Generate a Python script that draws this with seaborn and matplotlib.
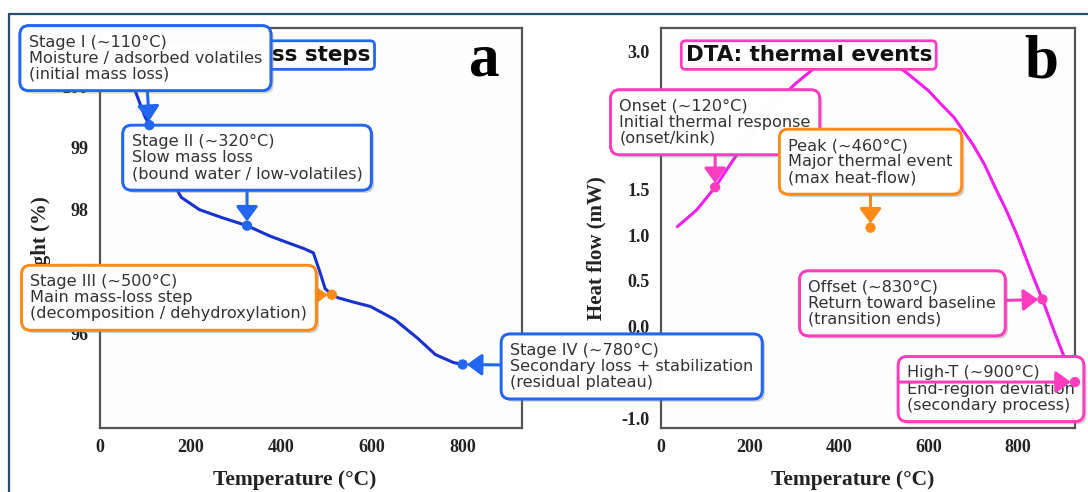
import matplotlib
matplotlib.use("Agg")
import numpy as np
import pandas as pd
import seaborn as sns
import matplotlib.pyplot as plt
from matplotlib import patheffects as pe
from matplotlib.lines import Line2D

# ---------------- data ----------------
tga_temp = [52, 82, 100, 110, 130, 150, 180, 220, 270, 325, 376, 420, 450, 471,
            485, 497, 512, 526, 560, 597, 650, 700, 740, 780, 800]
tga_weight = [100.46, 99.86, 99.51, 99.37, 98.95, 98.60, 98.20, 98.00, 97.87, 97.74,
              97.57, 97.45, 97.37, 97.30, 97.00, 96.72, 96.62, 96.57, 96.50, 96.43,
              96.22, 95.92, 95.65, 95.52, 95.49]

dta_temp = [37, 80, 122, 160, 200, 250, 300, 340, 380, 420, 445, 480, 520, 550,
            600, 625, 657, 700, 725, 749, 775, 800, 834, 855, 880, 900, 925]
dta_heat = [1.09, 1.27, 1.52, 1.80, 2.08, 2.40, 2.64, 2.80, 2.91, 2.97, 2.98, 2.95,
            2.87, 2.77, 2.57, 2.44, 2.28, 1.98, 1.77, 1.52, 1.26, 0.98, 0.55, 0.30,
            -0.03, -0.28, -0.58]

tga_event_temp = [110, 325, 512, 800]
tga_event_weight = [99.37, 97.74, 96.62, 95.49]
tga_event_text = ["Stage I (~110°C)\nMoisture / adsorbed volatiles\n(initial mass loss)",
                  "Stage II (~320°C)\nSlow mass loss\n(bound water / low-volatiles)",
                  "Stage III (~500°C)\nMain mass-loss step\n(decomposition / dehydroxylation)",
                  "Stage IV (~780°C)\nSecondary loss + stabilization\n(residual plateau)"]

dta_event_temp = [122, 470, 855, 928]
dta_event_heat = [1.52, 1.08, 0.30, -0.60]
dta_event_text = ["Onset (~120°C)\nInitial thermal response\n(onset/kink)",
                  "Peak (~460°C)\nMajor thermal event\n(max heat-flow)",
                  "Offset (~830°C)\nReturn toward baseline\n(transition ends)",
                  "High-T (~900°C)\nEnd-region deviation\n(secondary process)"]

x_ticks = [0, 200, 400, 600, 800]
tga_yticks = [96, 97, 98, 99, 100]
dta_yticks = [-1.0, -0.5, 0.0, 0.5, 1.0, 1.5, 2.0, 2.5, 3.0]
dta_yticklabels = ["-1.0", "-0.5", "0.0", "0.5", "1.0", "1.5", "2.0", "2.5", "3.0"]

# ---------------- style ----------------
sns.set_style("white")
plt.rcParams['font.family'] = ['DejaVu Sans']

BLUE = "#2266f2"
ORANGE = "#ff8a16"
PINK = "#ff3cc0"
TGA_LINE = "#1732cf"
DTA_LINE = "#f21ef0"
SPINE = "#555555"
TXT = "#333333"

W, H = 1088, 492
fig = plt.figure(figsize=(W / 100, H / 100), dpi=100)
fig.patch.set_facecolor("white")

def axes_rect(x0, x1, ytop, ybot):
    return [x0 / W, (H - ybot) / H, (x1 - x0) / W, (ybot - ytop) / H]

ax1 = fig.add_axes(axes_rect(99.5, 521.7, 28.3, 428))
ax2 = fig.add_axes(axes_rect(660.7, 1075, 28.3, 428))
ax1.set_zorder(3)
ax2.set_zorder(2)

tga_df = pd.DataFrame({"T": tga_temp, "W": tga_weight})
dta_df = pd.DataFrame({"T": dta_temp, "Q": dta_heat})
sns.lineplot(data=tga_df, x="T", y="W", ax=ax1, color=TGA_LINE, lw=2.2, sort=False, zorder=2)
sns.lineplot(data=dta_df, x="T", y="Q", ax=ax2, color=DTA_LINE, lw=2.2, sort=False, zorder=2)

ax1.set_xlim(0, 930)
ax1.set_ylim(94.46, 100.94)
ax2.set_xlim(0, 928)
ax2.set_ylim(-1.10, 3.25)
ax1.set_yticks(tga_yticks)
ax2.set_yticks(dta_yticks)
ax2.set_yticklabels(dta_yticklabels)

serif = "Liberation Serif"
for ax, ylab in ((ax1, "Weight (%)"), (ax2, "Heat flow (mW)")):
    ax.set_facecolor("#fdfdfd")
    ax.set_xticks(x_ticks)
    for s in ax.spines.values():
        s.set_color(SPINE)
        s.set_linewidth(1.6)
        s.set_visible(True)
    ax.tick_params(direction="out", length=5, width=1.3, color=SPINE, labelsize=13,
                   labelcolor="#222222", pad=3)
    for lbl in ax.get_xticklabels() + ax.get_yticklabels():
        lbl.set_fontfamily(serif)
        lbl.set_fontweight("bold")
    ax.set_xlabel("Temperature (°C)", fontfamily=serif, fontweight="bold", fontsize=15.5,
                  color="#222222")
    ax.set_ylabel(ylab, fontfamily=serif, fontweight="bold", fontsize=15,
                  color="#222222")
    ax.xaxis.set_label_coords(0.463, -0.105)
ax1.yaxis.set_label_coords(-0.115, 0.45)
ax2.yaxis.set_label_coords(-0.130, 0.45)

# panel titles
for ax, title, col, tx in ((ax1, "TGA: mass-loss steps", BLUE, 0.034),
                           (ax2, "DTA: thermal events", PINK, 0.06)):
    ax.text(tx, 0.933, title, transform=ax.transAxes, fontsize=15.4, fontweight="bold",
            ha="left", va="center", color="#111111", zorder=4,
            bbox=dict(boxstyle="round,pad=0.2", fc="white", ec=col, lw=2))

# panel letters
fig.text(500 / W, 1 - 75 / H, "a", fontfamily=serif, fontweight="bold", fontsize=44,
         ha="right", va="baseline", color="black")
fig.text(1058 / W, 1 - 78 / H, "b", fontfamily=serif, fontweight="bold", fontsize=44,
         ha="right", va="baseline", color="black")

shadow = [pe.withSimplePatchShadow(offset=(2, -2), shadow_rgbFace="#777777", alpha=0.35), pe.Normal()]
ARROW = "-|>,head_length=0.45,head_width=0.33"

def event_box(ax, text, xy, off_px, col, z):
    ann = ax.annotate(text, xy=xy, xycoords="data", xytext=off_px, textcoords="offset pixels",
                      ha="center", va="center", multialignment="left", fontsize=11.6,
                      linespacing=1.09, color=TXT, zorder=z, annotation_clip=False,
                      bbox=dict(boxstyle="round,pad=0.55", fc=(1, 1, 1, 0.87), ec=col, lw=2),
                      arrowprops=dict(arrowstyle=ARROW, mutation_scale=20, color=col, lw=2.2,
                                      shrinkA=0, shrinkB=3))
    ann.get_bbox_patch().set_path_effects(shadow)
    return ann

tga_cols = [BLUE, BLUE, ORANGE, BLUE]
tga_offs = [(-4, 67), (0, 68), (-163, -3), (169, -2)]
for i in range(4):
    event_box(ax1, tga_event_text[i], (tga_event_temp[i], tga_event_weight[i]),
              tga_offs[i], tga_cols[i], 5 + (1 if i == 0 else 0))
sns.scatterplot(x=tga_event_temp, y=tga_event_weight, ax=ax1, hue=tga_event_temp,
                palette=tga_cols, s=55, legend=False, zorder=7, edgecolor="none", clip_on=False)

dta_cols = [PINK, ORANGE, PINK, PINK]
dta_offs = [(0, 65), (0, 66), (-140, -4), (-84, -7)]
for i in range(4):
    event_box(ax2, dta_event_text[i], (dta_event_temp[i], dta_event_heat[i]),
              dta_offs[i], dta_cols[i], 5 + i * 0.1)
# High-T arrow drawn over its box, from the box's left edge
ax2.annotate("", xy=(dta_event_temp[3], dta_event_heat[3]), xycoords="data",
             xytext=(-176, 0), textcoords="offset pixels", zorder=6, annotation_clip=False,
             arrowprops=dict(arrowstyle=ARROW, mutation_scale=20, color=PINK, lw=2.2,
                             shrinkA=0, shrinkB=3))
sns.scatterplot(x=dta_event_temp, y=dta_event_heat, ax=ax2, hue=dta_event_temp,
                palette=dta_cols, s=55, legend=False, zorder=7, edgecolor="none", clip_on=False)

# outer frame lines
fig.add_artist(Line2D([9 / W, 1], [1 - 14 / H, 1 - 14 / H], transform=fig.transFigure,
                      color="#24506e", lw=1.6))
fig.add_artist(Line2D([9 / W, 9 / W], [0, 1 - 14 / H], transform=fig.transFigure,
                      color="#24506e", lw=1.6))

fig.savefig("out.png", dpi=100, facecolor="white")
